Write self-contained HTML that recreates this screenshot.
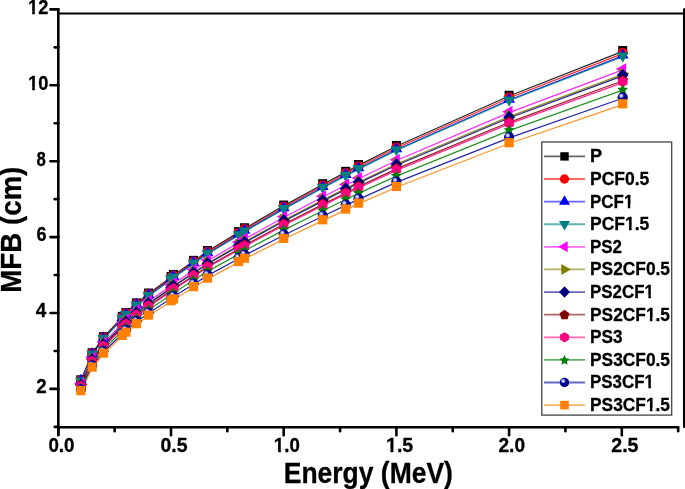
<!DOCTYPE html>
<html><head><meta charset="utf-8"><style>
html,body{margin:0;padding:0;background:#fff;}
body{width:685px;height:489px;overflow:hidden;}
svg{display:block;will-change:transform;font-family:"Liberation Sans",sans-serif;font-weight:bold;font-kerning:none;}
text{font-kerning:none;stroke:#000;stroke-width:0.3px;stroke-linejoin:round;}
</style></head><body>
<svg width="685" height="489" viewBox="0 0 685 489">
<defs><radialGradient id="ballg" cx="0.36" cy="0.34" r="0.72" fx="0.36" fy="0.34">
<stop offset="0" stop-color="#f4f4ff"/><stop offset="0.18" stop-color="#b0b0e0"/><stop offset="0.38" stop-color="#000098"/><stop offset="0.8" stop-color="#000088"/><stop offset="1" stop-color="#000060"/></radialGradient></defs>
<rect width="685" height="489" fill="#fff"/>

<polyline points="80.84,380.55 92.11,353.53 103.38,337.44 122.25,317.14 125.92,313.34 136.42,303.67 148.46,293.84 171.00,277.25 173.48,275.24 193.54,261.16 207.51,251.33 238.62,232.36 244.48,228.56 283.70,205.83 322.69,184.47 345.69,172.13 358.53,165.34 396.40,146.25 509.10,96.04 622.70,51.34" fill="none" stroke="#000000" stroke-width="1.25" stroke-opacity="0.85"/>
<polyline points="80.84,381.01 92.11,354.14 103.38,338.14 122.25,317.94 125.92,314.17 136.42,304.54 148.46,294.77 171.00,278.27 173.48,276.27 193.54,262.27 207.51,252.49 238.62,233.62 244.48,229.85 283.70,207.24 322.69,185.99 345.69,173.72 358.53,166.96 396.40,147.98 509.10,98.04 622.70,53.58" fill="none" stroke="#ff0000" stroke-width="1.25" stroke-opacity="0.85"/>
<polyline points="80.84,381.47 92.11,354.74 103.38,338.83 122.25,318.74 125.92,314.99 136.42,305.42 148.46,295.69 171.00,279.29 173.48,277.30 193.54,263.37 207.51,253.65 238.62,234.88 244.48,231.13 283.70,208.64 322.69,187.50 345.69,175.30 358.53,168.58 396.40,149.70 509.10,100.04 622.70,55.81" fill="none" stroke="#0000ff" stroke-width="1.25" stroke-opacity="0.85"/>
<polyline points="80.84,381.64 92.11,354.96 103.38,339.08 122.25,319.04 125.92,315.29 136.42,305.74 148.46,296.03 171.00,279.66 173.48,277.67 193.54,263.77 207.51,254.07 238.62,235.34 244.48,231.59 283.70,209.15 322.69,188.06 345.69,175.88 358.53,169.17 396.40,150.33 509.10,100.76 622.70,56.63" fill="none" stroke="#008080" stroke-width="1.25" stroke-opacity="0.85"/>
<polyline points="80.84,384.36 92.11,358.54 103.38,343.17 122.25,323.78 125.92,320.15 136.42,310.91 148.46,301.52 171.00,285.67 173.48,283.75 193.54,270.30 207.51,260.91 238.62,242.79 244.48,239.16 283.70,217.44 322.69,197.03 345.69,185.25 358.53,178.76 396.40,160.53 509.10,112.56 622.70,69.86" fill="none" stroke="#ff00ff" stroke-width="1.25" stroke-opacity="0.85"/>
<polyline points="80.84,385.27 92.11,359.75 103.38,344.56 122.25,325.38 125.92,321.80 136.42,312.66 148.46,303.37 171.00,287.71 173.48,285.81 193.54,272.51 207.51,263.23 238.62,245.31 244.48,241.72 283.70,220.25 322.69,200.07 345.69,188.42 358.53,182.01 396.40,163.98 509.10,116.56 622.70,74.33" fill="none" stroke="#808000" stroke-width="1.25" stroke-opacity="0.85"/>
<polyline points="80.84,385.60 92.11,360.18 103.38,345.05 122.25,325.95 125.92,322.38 136.42,313.28 148.46,304.03 171.00,288.43 173.48,286.54 193.54,273.29 207.51,264.05 238.62,246.20 244.48,242.63 283.70,221.25 322.69,201.15 345.69,189.55 358.53,183.16 396.40,165.20 509.10,117.97 622.70,75.92" fill="none" stroke="#000080" stroke-width="1.25" stroke-opacity="0.85"/>
<polyline points="80.84,386.59 92.11,361.49 103.38,346.55 122.25,327.68 125.92,324.16 136.42,315.17 148.46,306.04 171.00,290.63 173.48,288.76 193.54,275.68 207.51,266.55 238.62,248.93 244.48,245.40 283.70,224.28 322.69,204.43 345.69,192.98 358.53,186.67 396.40,168.93 509.10,122.29 622.70,80.76" fill="none" stroke="#800000" stroke-width="1.25" stroke-opacity="0.85"/>
<polyline points="80.84,386.97 92.11,361.99 103.38,347.11 122.25,328.34 125.92,324.83 136.42,315.89 148.46,306.80 171.00,291.46 173.48,289.61 193.54,276.59 207.51,267.50 238.62,249.96 244.48,246.45 283.70,225.43 322.69,205.68 345.69,194.27 358.53,187.99 396.40,170.35 509.10,123.93 622.70,82.59" fill="none" stroke="#ff0080" stroke-width="1.25" stroke-opacity="0.85"/>
<polyline points="80.84,388.50 92.11,364.00 103.38,349.42 122.25,331.01 125.92,327.57 136.42,318.80 148.46,309.89 171.00,294.85 173.48,293.03 193.54,280.26 207.51,271.35 238.62,254.15 244.48,250.71 283.70,230.10 322.69,210.73 345.69,199.55 358.53,193.39 396.40,176.09 509.10,130.57 622.70,90.04" fill="none" stroke="#008000" stroke-width="1.25" stroke-opacity="0.85"/>
<polyline points="80.84,390.19 92.11,366.23 103.38,351.96 122.25,333.96 125.92,330.59 136.42,322.01 148.46,313.29 171.00,298.59 173.48,296.81 193.54,284.32 207.51,275.60 238.62,258.78 244.48,255.41 283.70,235.26 322.69,216.31 345.69,205.37 358.53,199.35 396.40,182.42 509.10,137.90 622.70,98.26" fill="none" stroke="#0000a0" stroke-width="1.25" stroke-opacity="0.85"/>
<polyline points="80.84,391.48 92.11,367.93 103.38,353.91 122.25,336.22 125.92,332.91 136.42,324.48 148.46,315.91 171.00,301.46 173.48,299.70 193.54,287.43 207.51,278.87 238.62,262.33 244.48,259.02 283.70,239.21 322.69,220.59 345.69,209.84 358.53,203.92 396.40,187.29 509.10,143.53 622.70,104.57" fill="none" stroke="#ff8000" stroke-width="1.25" stroke-opacity="0.85"/>
<rect x="76.34" y="375.25" width="9.0" height="9.0" fill="#000000"/>
<rect x="87.61" y="348.23" width="9.0" height="9.0" fill="#000000"/>
<rect x="98.88" y="332.14" width="9.0" height="9.0" fill="#000000"/>
<rect x="117.75" y="311.84" width="9.0" height="9.0" fill="#000000"/>
<rect x="121.42" y="308.04" width="9.0" height="9.0" fill="#000000"/>
<rect x="131.92" y="298.37" width="9.0" height="9.0" fill="#000000"/>
<rect x="143.96" y="288.54" width="9.0" height="9.0" fill="#000000"/>
<rect x="166.50" y="271.95" width="9.0" height="9.0" fill="#000000"/>
<rect x="168.98" y="269.94" width="9.0" height="9.0" fill="#000000"/>
<rect x="189.04" y="255.86" width="9.0" height="9.0" fill="#000000"/>
<rect x="203.01" y="246.03" width="9.0" height="9.0" fill="#000000"/>
<rect x="234.12" y="227.06" width="9.0" height="9.0" fill="#000000"/>
<rect x="239.98" y="223.26" width="9.0" height="9.0" fill="#000000"/>
<rect x="279.20" y="200.53" width="9.0" height="9.0" fill="#000000"/>
<rect x="318.19" y="179.17" width="9.0" height="9.0" fill="#000000"/>
<rect x="341.19" y="166.83" width="9.0" height="9.0" fill="#000000"/>
<rect x="354.03" y="160.04" width="9.0" height="9.0" fill="#000000"/>
<rect x="391.90" y="140.95" width="9.0" height="9.0" fill="#000000"/>
<rect x="504.60" y="90.74" width="9.0" height="9.0" fill="#000000"/>
<rect x="618.20" y="46.04" width="9.0" height="9.0" fill="#000000"/>
<circle cx="80.84" cy="380.21" r="5.00" fill="#ff0000"/>
<circle cx="92.11" cy="353.34" r="5.00" fill="#ff0000"/>
<circle cx="103.38" cy="337.34" r="5.00" fill="#ff0000"/>
<circle cx="122.25" cy="317.14" r="5.00" fill="#ff0000"/>
<circle cx="125.92" cy="313.37" r="5.00" fill="#ff0000"/>
<circle cx="136.42" cy="303.74" r="5.00" fill="#ff0000"/>
<circle cx="148.46" cy="293.97" r="5.00" fill="#ff0000"/>
<circle cx="171.00" cy="277.47" r="5.00" fill="#ff0000"/>
<circle cx="173.48" cy="275.47" r="5.00" fill="#ff0000"/>
<circle cx="193.54" cy="261.47" r="5.00" fill="#ff0000"/>
<circle cx="207.51" cy="251.69" r="5.00" fill="#ff0000"/>
<circle cx="238.62" cy="232.82" r="5.00" fill="#ff0000"/>
<circle cx="244.48" cy="229.05" r="5.00" fill="#ff0000"/>
<circle cx="283.70" cy="206.44" r="5.00" fill="#ff0000"/>
<circle cx="322.69" cy="185.19" r="5.00" fill="#ff0000"/>
<circle cx="345.69" cy="172.92" r="5.00" fill="#ff0000"/>
<circle cx="358.53" cy="166.16" r="5.00" fill="#ff0000"/>
<circle cx="396.40" cy="147.18" r="5.00" fill="#ff0000"/>
<circle cx="509.10" cy="97.24" r="5.00" fill="#ff0000"/>
<circle cx="622.70" cy="52.78" r="5.00" fill="#ff0000"/>
<polygon points="80.84,373.87 74.94,384.07 86.74,384.07" fill="#0000ff"/>
<polygon points="92.11,347.14 86.21,357.34 98.01,357.34" fill="#0000ff"/>
<polygon points="103.38,331.23 97.48,341.43 109.28,341.43" fill="#0000ff"/>
<polygon points="122.25,311.14 116.35,321.34 128.15,321.34" fill="#0000ff"/>
<polygon points="125.92,307.39 120.02,317.59 131.82,317.59" fill="#0000ff"/>
<polygon points="136.42,297.82 130.52,308.02 142.32,308.02" fill="#0000ff"/>
<polygon points="148.46,288.09 142.56,298.29 154.36,298.29" fill="#0000ff"/>
<polygon points="171.00,271.69 165.10,281.89 176.90,281.89" fill="#0000ff"/>
<polygon points="173.48,269.70 167.58,279.90 179.38,279.90" fill="#0000ff"/>
<polygon points="193.54,255.77 187.64,265.97 199.44,265.97" fill="#0000ff"/>
<polygon points="207.51,246.05 201.61,256.25 213.41,256.25" fill="#0000ff"/>
<polygon points="238.62,227.28 232.72,237.48 244.52,237.48" fill="#0000ff"/>
<polygon points="244.48,223.53 238.58,233.73 250.38,233.73" fill="#0000ff"/>
<polygon points="283.70,201.04 277.80,211.24 289.60,211.24" fill="#0000ff"/>
<polygon points="322.69,179.90 316.79,190.10 328.59,190.10" fill="#0000ff"/>
<polygon points="345.69,167.70 339.79,177.90 351.58,177.90" fill="#0000ff"/>
<polygon points="358.53,160.98 352.63,171.18 364.43,171.18" fill="#0000ff"/>
<polygon points="396.40,142.10 390.50,152.30 402.30,152.30" fill="#0000ff"/>
<polygon points="509.10,92.44 503.20,102.64 515.00,102.64" fill="#0000ff"/>
<polygon points="622.70,48.21 616.80,58.41 628.60,58.41" fill="#0000ff"/>
<polygon points="80.84,387.64 74.94,377.44 86.74,377.44" fill="#008080"/>
<polygon points="92.11,360.96 86.21,350.76 98.01,350.76" fill="#008080"/>
<polygon points="103.38,345.08 97.48,334.88 109.28,334.88" fill="#008080"/>
<polygon points="122.25,325.04 116.35,314.84 128.15,314.84" fill="#008080"/>
<polygon points="125.92,321.29 120.02,311.09 131.82,311.09" fill="#008080"/>
<polygon points="136.42,311.74 130.52,301.54 142.32,301.54" fill="#008080"/>
<polygon points="148.46,302.03 142.56,291.83 154.36,291.83" fill="#008080"/>
<polygon points="171.00,285.66 165.10,275.46 176.90,275.46" fill="#008080"/>
<polygon points="173.48,283.67 167.58,273.47 179.38,273.47" fill="#008080"/>
<polygon points="193.54,269.77 187.64,259.57 199.44,259.57" fill="#008080"/>
<polygon points="207.51,260.07 201.61,249.87 213.41,249.87" fill="#008080"/>
<polygon points="238.62,241.34 232.72,231.14 244.52,231.14" fill="#008080"/>
<polygon points="244.48,237.59 238.58,227.39 250.38,227.39" fill="#008080"/>
<polygon points="283.70,215.15 277.80,204.95 289.60,204.95" fill="#008080"/>
<polygon points="322.69,194.06 316.79,183.86 328.59,183.86" fill="#008080"/>
<polygon points="345.69,181.88 339.79,171.68 351.58,171.68" fill="#008080"/>
<polygon points="358.53,175.17 352.63,164.97 364.43,164.97" fill="#008080"/>
<polygon points="396.40,156.33 390.50,146.13 402.30,146.13" fill="#008080"/>
<polygon points="509.10,106.76 503.20,96.56 515.00,96.56" fill="#008080"/>
<polygon points="622.70,62.63 616.80,52.43 628.60,52.43" fill="#008080"/>
<polygon points="74.04,383.56 84.24,377.66 84.24,389.46" fill="#ff00ff"/>
<polygon points="85.31,357.74 95.51,351.84 95.51,363.64" fill="#ff00ff"/>
<polygon points="96.58,342.37 106.78,336.47 106.78,348.27" fill="#ff00ff"/>
<polygon points="115.45,322.98 125.65,317.08 125.65,328.88" fill="#ff00ff"/>
<polygon points="119.12,319.35 129.32,313.45 129.32,325.25" fill="#ff00ff"/>
<polygon points="129.62,310.11 139.82,304.21 139.82,316.01" fill="#ff00ff"/>
<polygon points="141.66,300.72 151.86,294.82 151.86,306.62" fill="#ff00ff"/>
<polygon points="164.20,284.87 174.40,278.97 174.40,290.77" fill="#ff00ff"/>
<polygon points="166.68,282.95 176.88,277.05 176.88,288.85" fill="#ff00ff"/>
<polygon points="186.74,269.50 196.94,263.60 196.94,275.40" fill="#ff00ff"/>
<polygon points="200.71,260.11 210.91,254.21 210.91,266.01" fill="#ff00ff"/>
<polygon points="231.82,241.99 242.02,236.09 242.02,247.89" fill="#ff00ff"/>
<polygon points="237.68,238.36 247.88,232.46 247.88,244.26" fill="#ff00ff"/>
<polygon points="276.90,216.64 287.10,210.74 287.10,222.54" fill="#ff00ff"/>
<polygon points="315.89,196.23 326.09,190.33 326.09,202.13" fill="#ff00ff"/>
<polygon points="338.88,184.45 349.08,178.55 349.08,190.35" fill="#ff00ff"/>
<polygon points="351.73,177.96 361.93,172.06 361.93,183.86" fill="#ff00ff"/>
<polygon points="389.60,159.73 399.80,153.83 399.80,165.63" fill="#ff00ff"/>
<polygon points="502.30,111.76 512.50,105.86 512.50,117.66" fill="#ff00ff"/>
<polygon points="615.90,69.06 626.10,63.16 626.10,74.96" fill="#ff00ff"/>
<polygon points="87.64,384.47 77.44,378.57 77.44,390.37" fill="#808000"/>
<polygon points="98.91,358.95 88.71,353.05 88.71,364.85" fill="#808000"/>
<polygon points="110.18,343.76 99.98,337.86 99.98,349.66" fill="#808000"/>
<polygon points="129.05,324.58 118.85,318.68 118.85,330.48" fill="#808000"/>
<polygon points="132.72,321.00 122.52,315.10 122.52,326.90" fill="#808000"/>
<polygon points="143.22,311.86 133.02,305.96 133.02,317.76" fill="#808000"/>
<polygon points="155.26,302.57 145.06,296.67 145.06,308.47" fill="#808000"/>
<polygon points="177.80,286.91 167.60,281.01 167.60,292.81" fill="#808000"/>
<polygon points="180.28,285.01 170.08,279.11 170.08,290.91" fill="#808000"/>
<polygon points="200.34,271.71 190.14,265.81 190.14,277.61" fill="#808000"/>
<polygon points="214.31,262.43 204.11,256.53 204.11,268.33" fill="#808000"/>
<polygon points="245.42,244.51 235.22,238.61 235.22,250.41" fill="#808000"/>
<polygon points="251.28,240.92 241.08,235.02 241.08,246.82" fill="#808000"/>
<polygon points="290.50,219.45 280.30,213.55 280.30,225.35" fill="#808000"/>
<polygon points="329.49,199.27 319.29,193.37 319.29,205.17" fill="#808000"/>
<polygon points="352.49,187.62 342.29,181.72 342.29,193.52" fill="#808000"/>
<polygon points="365.33,181.21 355.13,175.31 355.13,187.11" fill="#808000"/>
<polygon points="403.20,163.18 393.00,157.28 393.00,169.08" fill="#808000"/>
<polygon points="515.90,115.76 505.70,109.86 505.70,121.66" fill="#808000"/>
<polygon points="629.50,73.53 619.30,67.63 619.30,79.43" fill="#808000"/>
<polygon points="80.84,378.60 86.74,384.80 80.84,391.00 74.94,384.80" fill="#000080"/>
<polygon points="92.11,353.18 98.01,359.38 92.11,365.58 86.21,359.38" fill="#000080"/>
<polygon points="103.38,338.05 109.28,344.25 103.38,350.45 97.48,344.25" fill="#000080"/>
<polygon points="122.25,318.95 128.15,325.15 122.25,331.35 116.35,325.15" fill="#000080"/>
<polygon points="125.92,315.38 131.82,321.58 125.92,327.78 120.02,321.58" fill="#000080"/>
<polygon points="136.42,306.28 142.32,312.48 136.42,318.68 130.52,312.48" fill="#000080"/>
<polygon points="148.46,297.03 154.36,303.23 148.46,309.43 142.56,303.23" fill="#000080"/>
<polygon points="171.00,281.43 176.90,287.63 171.00,293.83 165.10,287.63" fill="#000080"/>
<polygon points="173.48,279.54 179.38,285.74 173.48,291.94 167.58,285.74" fill="#000080"/>
<polygon points="193.54,266.29 199.44,272.49 193.54,278.69 187.64,272.49" fill="#000080"/>
<polygon points="207.51,257.05 213.41,263.25 207.51,269.45 201.61,263.25" fill="#000080"/>
<polygon points="238.62,239.20 244.52,245.40 238.62,251.60 232.72,245.40" fill="#000080"/>
<polygon points="244.48,235.63 250.38,241.83 244.48,248.03 238.58,241.83" fill="#000080"/>
<polygon points="283.70,214.25 289.60,220.45 283.70,226.65 277.80,220.45" fill="#000080"/>
<polygon points="322.69,194.15 328.59,200.35 322.69,206.55 316.79,200.35" fill="#000080"/>
<polygon points="345.69,182.55 351.58,188.75 345.69,194.95 339.79,188.75" fill="#000080"/>
<polygon points="358.53,176.16 364.43,182.36 358.53,188.56 352.63,182.36" fill="#000080"/>
<polygon points="396.40,158.20 402.30,164.40 396.40,170.60 390.50,164.40" fill="#000080"/>
<polygon points="509.10,110.97 515.00,117.17 509.10,123.37 503.20,117.17" fill="#000080"/>
<polygon points="622.70,68.92 628.60,75.12 622.70,81.32 616.80,75.12" fill="#000080"/>
<polygon points="80.84,380.49 86.17,384.36 84.13,390.63 77.55,390.63 75.51,384.36" fill="#800000"/>
<polygon points="92.11,355.39 97.44,359.26 95.40,365.52 88.82,365.52 86.78,359.26" fill="#800000"/>
<polygon points="103.38,340.45 108.71,344.32 106.67,350.58 100.09,350.58 98.05,344.32" fill="#800000"/>
<polygon points="122.25,321.58 127.57,325.45 125.54,331.72 118.95,331.72 116.92,325.45" fill="#800000"/>
<polygon points="125.92,318.06 131.25,321.93 129.21,328.19 122.63,328.19 120.59,321.93" fill="#800000"/>
<polygon points="136.42,309.07 141.75,312.94 139.72,319.20 133.13,319.20 131.10,312.94" fill="#800000"/>
<polygon points="148.46,299.94 153.79,303.81 151.75,310.07 145.17,310.07 143.13,303.81" fill="#800000"/>
<polygon points="171.00,284.53 176.33,288.40 174.29,294.66 167.71,294.66 165.67,288.40" fill="#800000"/>
<polygon points="173.48,282.66 178.81,286.53 176.77,292.79 170.19,292.79 168.15,286.53" fill="#800000"/>
<polygon points="193.54,269.58 198.87,273.45 196.83,279.71 190.25,279.71 188.21,273.45" fill="#800000"/>
<polygon points="207.51,260.45 212.84,264.32 210.81,270.58 204.22,270.58 202.19,264.32" fill="#800000"/>
<polygon points="238.62,242.83 243.95,246.70 241.91,252.96 235.33,252.96 233.29,246.70" fill="#800000"/>
<polygon points="244.48,239.30 249.81,243.17 247.77,249.43 241.19,249.43 239.15,243.17" fill="#800000"/>
<polygon points="283.70,218.18 289.03,222.05 286.99,228.31 280.41,228.31 278.37,222.05" fill="#800000"/>
<polygon points="322.69,198.33 328.02,202.20 325.99,208.47 319.40,208.47 317.37,202.20" fill="#800000"/>
<polygon points="345.69,186.88 351.01,190.75 348.98,197.01 342.39,197.01 340.36,190.75" fill="#800000"/>
<polygon points="358.53,180.57 363.86,184.44 361.82,190.70 355.24,190.70 353.21,184.44" fill="#800000"/>
<polygon points="396.40,162.83 401.73,166.70 399.69,172.96 393.11,172.96 391.07,166.70" fill="#800000"/>
<polygon points="509.10,116.19 514.43,120.06 512.39,126.32 505.81,126.32 503.77,120.06" fill="#800000"/>
<polygon points="622.70,74.66 628.03,78.53 625.99,84.79 619.41,84.79 617.38,78.53" fill="#800000"/>
<polygon points="80.84,380.67 85.60,383.42 85.60,388.92 80.84,391.67 76.08,388.92 76.08,383.42" fill="#ff0080"/>
<polygon points="92.11,355.69 96.87,358.44 96.87,363.94 92.11,366.69 87.35,363.94 87.35,358.44" fill="#ff0080"/>
<polygon points="103.38,340.81 108.14,343.56 108.14,349.06 103.38,351.81 98.62,349.06 98.62,343.56" fill="#ff0080"/>
<polygon points="122.25,322.04 127.01,324.79 127.01,330.29 122.25,333.04 117.48,330.29 117.48,324.79" fill="#ff0080"/>
<polygon points="125.92,318.53 130.68,321.28 130.68,326.78 125.92,329.53 121.16,326.78 121.16,321.28" fill="#ff0080"/>
<polygon points="136.42,309.59 141.19,312.34 141.19,317.84 136.42,320.59 131.66,317.84 131.66,312.34" fill="#ff0080"/>
<polygon points="148.46,300.50 153.22,303.25 153.22,308.75 148.46,311.50 143.70,308.75 143.70,303.25" fill="#ff0080"/>
<polygon points="171.00,285.16 175.76,287.91 175.76,293.41 171.00,296.16 166.24,293.41 166.24,287.91" fill="#ff0080"/>
<polygon points="173.48,283.31 178.24,286.06 178.24,291.56 173.48,294.31 168.72,291.56 168.72,286.06" fill="#ff0080"/>
<polygon points="193.54,270.29 198.30,273.04 198.30,278.54 193.54,281.29 188.78,278.54 188.78,273.04" fill="#ff0080"/>
<polygon points="207.51,261.20 212.28,263.95 212.28,269.45 207.51,272.20 202.75,269.45 202.75,263.95" fill="#ff0080"/>
<polygon points="238.62,243.66 243.38,246.41 243.38,251.91 238.62,254.66 233.86,251.91 233.86,246.41" fill="#ff0080"/>
<polygon points="244.48,240.15 249.24,242.90 249.24,248.40 244.48,251.15 239.72,248.40 239.72,242.90" fill="#ff0080"/>
<polygon points="283.70,219.13 288.46,221.88 288.46,227.38 283.70,230.13 278.94,227.38 278.94,221.88" fill="#ff0080"/>
<polygon points="322.69,199.38 327.46,202.13 327.46,207.63 322.69,210.38 317.93,207.63 317.93,202.13" fill="#ff0080"/>
<polygon points="345.69,187.97 350.45,190.72 350.45,196.22 345.69,198.97 340.92,196.22 340.92,190.72" fill="#ff0080"/>
<polygon points="358.53,181.69 363.30,184.44 363.30,189.94 358.53,192.69 353.77,189.94 353.77,184.44" fill="#ff0080"/>
<polygon points="396.40,164.05 401.16,166.80 401.16,172.30 396.40,175.05 391.64,172.30 391.64,166.80" fill="#ff0080"/>
<polygon points="509.10,117.63 513.86,120.38 513.86,125.88 509.10,128.63 504.34,125.88 504.34,120.38" fill="#ff0080"/>
<polygon points="622.70,76.29 627.46,79.04 627.46,84.54 622.70,87.29 617.94,84.54 617.94,79.04" fill="#ff0080"/>
<polygon points="80.84,382.50 82.46,385.97 86.26,386.44 83.46,389.05 84.19,392.81 80.84,390.95 77.49,392.81 78.22,389.05 75.42,386.44 79.22,385.97" fill="#008000"/>
<polygon points="92.11,358.00 93.73,361.48 97.53,361.94 94.73,364.55 95.46,368.32 92.11,366.45 88.76,368.32 89.49,364.55 86.69,361.94 90.49,361.48" fill="#008000"/>
<polygon points="103.38,343.42 105.00,346.89 108.80,347.35 106.00,349.97 106.73,353.73 103.38,351.87 100.03,353.73 100.76,349.97 97.96,347.35 101.76,346.89" fill="#008000"/>
<polygon points="122.25,325.01 123.86,328.49 127.67,328.95 124.86,331.56 125.60,335.32 122.25,333.46 118.90,335.32 119.63,331.56 116.82,328.95 120.63,328.49" fill="#008000"/>
<polygon points="125.92,321.57 127.54,325.04 131.34,325.51 128.54,328.12 129.27,331.88 125.92,330.02 122.57,331.88 123.30,328.12 120.50,325.51 124.30,325.04" fill="#008000"/>
<polygon points="136.42,312.80 138.04,316.27 141.84,316.73 139.04,319.35 139.77,323.11 136.42,321.25 133.07,323.11 133.81,319.35 131.00,316.73 134.81,316.27" fill="#008000"/>
<polygon points="148.46,303.89 150.08,307.36 153.88,307.82 151.08,310.44 151.81,314.20 148.46,312.34 145.11,314.20 145.84,310.44 143.04,307.82 146.84,307.36" fill="#008000"/>
<polygon points="171.00,288.85 172.62,292.33 176.42,292.79 173.62,295.40 174.35,299.16 171.00,297.30 167.65,299.16 168.38,295.40 165.58,292.79 169.38,292.33" fill="#008000"/>
<polygon points="173.48,287.03 175.10,290.50 178.90,290.97 176.09,293.58 176.83,297.34 173.48,295.48 170.13,297.34 170.86,293.58 168.06,290.97 171.86,290.50" fill="#008000"/>
<polygon points="193.54,274.26 195.16,277.74 198.96,278.20 196.16,280.81 196.89,284.57 193.54,282.71 190.19,284.57 190.92,280.81 188.12,278.20 191.92,277.74" fill="#008000"/>
<polygon points="207.51,265.35 209.13,268.83 212.94,269.29 210.13,271.90 210.87,275.66 207.51,273.80 204.16,275.66 204.90,271.90 202.09,269.29 205.90,268.83" fill="#008000"/>
<polygon points="238.62,248.15 240.24,251.63 244.04,252.09 241.24,254.70 241.97,258.46 238.62,256.60 235.27,258.46 236.00,254.70 233.20,252.09 237.00,251.63" fill="#008000"/>
<polygon points="244.48,244.71 246.10,248.19 249.90,248.65 247.10,251.26 247.83,255.02 244.48,253.16 241.13,255.02 241.86,251.26 239.06,248.65 242.86,248.19" fill="#008000"/>
<polygon points="283.70,224.10 285.32,227.58 289.12,228.04 286.32,230.65 287.05,234.41 283.70,232.55 280.35,234.41 281.08,230.65 278.28,228.04 282.08,227.58" fill="#008000"/>
<polygon points="322.69,204.73 324.31,208.21 328.12,208.67 325.31,211.28 326.04,215.04 322.69,213.18 319.34,215.04 320.08,211.28 317.27,208.67 321.08,208.21" fill="#008000"/>
<polygon points="345.69,193.55 347.30,197.03 351.11,197.49 348.30,200.10 349.04,203.86 345.69,202.00 342.33,203.86 343.07,200.10 340.26,197.49 344.07,197.03" fill="#008000"/>
<polygon points="358.53,187.39 360.15,190.87 363.95,191.33 361.15,193.94 361.88,197.70 358.53,195.84 355.18,197.70 355.92,193.94 353.11,191.33 356.92,190.87" fill="#008000"/>
<polygon points="396.40,170.09 398.02,173.56 401.82,174.03 399.02,176.64 399.75,180.40 396.40,178.54 393.05,180.40 393.78,176.64 390.98,174.03 394.78,173.56" fill="#008000"/>
<polygon points="509.10,124.57 510.72,128.04 514.52,128.51 511.72,131.12 512.45,134.88 509.10,133.02 505.75,134.88 506.48,131.12 503.68,128.51 507.48,128.04" fill="#008000"/>
<polygon points="622.70,84.04 624.32,87.52 628.12,87.98 625.32,90.59 626.05,94.35 622.70,92.49 619.35,94.35 620.09,90.59 617.28,87.98 621.09,87.52" fill="#008000"/>
<circle cx="80.84" cy="389.39" r="5.10" fill="url(#ballg)"/>
<circle cx="92.11" cy="365.43" r="5.10" fill="url(#ballg)"/>
<circle cx="103.38" cy="351.16" r="5.10" fill="url(#ballg)"/>
<circle cx="122.25" cy="333.16" r="5.10" fill="url(#ballg)"/>
<circle cx="125.92" cy="329.79" r="5.10" fill="url(#ballg)"/>
<circle cx="136.42" cy="321.21" r="5.10" fill="url(#ballg)"/>
<circle cx="148.46" cy="312.49" r="5.10" fill="url(#ballg)"/>
<circle cx="171.00" cy="297.79" r="5.10" fill="url(#ballg)"/>
<circle cx="173.48" cy="296.01" r="5.10" fill="url(#ballg)"/>
<circle cx="193.54" cy="283.52" r="5.10" fill="url(#ballg)"/>
<circle cx="207.51" cy="274.80" r="5.10" fill="url(#ballg)"/>
<circle cx="238.62" cy="257.98" r="5.10" fill="url(#ballg)"/>
<circle cx="244.48" cy="254.61" r="5.10" fill="url(#ballg)"/>
<circle cx="283.70" cy="234.46" r="5.10" fill="url(#ballg)"/>
<circle cx="322.69" cy="215.51" r="5.10" fill="url(#ballg)"/>
<circle cx="345.69" cy="204.57" r="5.10" fill="url(#ballg)"/>
<circle cx="358.53" cy="198.55" r="5.10" fill="url(#ballg)"/>
<circle cx="396.40" cy="181.62" r="5.10" fill="url(#ballg)"/>
<circle cx="509.10" cy="137.10" r="5.10" fill="url(#ballg)"/>
<circle cx="622.70" cy="97.46" r="5.10" fill="url(#ballg)"/>
<rect x="76.24" y="386.08" width="9.2" height="9.2" fill="#ff8000"/>
<rect x="87.51" y="362.53" width="9.2" height="9.2" fill="#ff8000"/>
<rect x="98.78" y="348.51" width="9.2" height="9.2" fill="#ff8000"/>
<rect x="117.65" y="330.82" width="9.2" height="9.2" fill="#ff8000"/>
<rect x="121.32" y="327.51" width="9.2" height="9.2" fill="#ff8000"/>
<rect x="131.82" y="319.08" width="9.2" height="9.2" fill="#ff8000"/>
<rect x="143.86" y="310.51" width="9.2" height="9.2" fill="#ff8000"/>
<rect x="166.40" y="296.06" width="9.2" height="9.2" fill="#ff8000"/>
<rect x="168.88" y="294.30" width="9.2" height="9.2" fill="#ff8000"/>
<rect x="188.94" y="282.03" width="9.2" height="9.2" fill="#ff8000"/>
<rect x="202.91" y="273.47" width="9.2" height="9.2" fill="#ff8000"/>
<rect x="234.02" y="256.93" width="9.2" height="9.2" fill="#ff8000"/>
<rect x="239.88" y="253.62" width="9.2" height="9.2" fill="#ff8000"/>
<rect x="279.10" y="233.81" width="9.2" height="9.2" fill="#ff8000"/>
<rect x="318.09" y="215.19" width="9.2" height="9.2" fill="#ff8000"/>
<rect x="341.08" y="204.44" width="9.2" height="9.2" fill="#ff8000"/>
<rect x="353.93" y="198.52" width="9.2" height="9.2" fill="#ff8000"/>
<rect x="391.80" y="181.89" width="9.2" height="9.2" fill="#ff8000"/>
<rect x="504.50" y="138.13" width="9.2" height="9.2" fill="#ff8000"/>
<rect x="618.10" y="99.17" width="9.2" height="9.2" fill="#ff8000"/>
<line x1="58.3" y1="9.4" x2="58.3" y2="434.6" stroke="#000" stroke-width="2.6" stroke-linecap="round" fill="none"/>
<line x1="58.3" y1="427.3" x2="677.8" y2="427.3" stroke="#000" stroke-width="2.6" stroke-linecap="round" fill="none"/>
<line x1="58.3" y1="13.5" x2="684" y2="13.5" stroke="#000" stroke-width="2.2"/>
<line x1="684.6" y1="9.6" x2="684.6" y2="426.5" stroke="#000" stroke-width="3.2" stroke-linecap="round"/>
<line x1="54.7" y1="426.85" x2="58.3" y2="426.85" stroke="#000" stroke-width="2.6" stroke-linecap="round" fill="none"/>
<line x1="50.5" y1="388.90" x2="58.3" y2="388.90" stroke="#000" stroke-width="2.6" stroke-linecap="round" fill="none"/>
<line x1="54.7" y1="350.95" x2="58.3" y2="350.95" stroke="#000" stroke-width="2.6" stroke-linecap="round" fill="none"/>
<line x1="50.5" y1="313.00" x2="58.3" y2="313.00" stroke="#000" stroke-width="2.6" stroke-linecap="round" fill="none"/>
<line x1="54.7" y1="275.05" x2="58.3" y2="275.05" stroke="#000" stroke-width="2.6" stroke-linecap="round" fill="none"/>
<line x1="50.5" y1="237.10" x2="58.3" y2="237.10" stroke="#000" stroke-width="2.6" stroke-linecap="round" fill="none"/>
<line x1="54.7" y1="199.15" x2="58.3" y2="199.15" stroke="#000" stroke-width="2.6" stroke-linecap="round" fill="none"/>
<line x1="50.5" y1="161.20" x2="58.3" y2="161.20" stroke="#000" stroke-width="2.6" stroke-linecap="round" fill="none"/>
<line x1="54.7" y1="123.25" x2="58.3" y2="123.25" stroke="#000" stroke-width="2.6" stroke-linecap="round" fill="none"/>
<line x1="50.5" y1="85.30" x2="58.3" y2="85.30" stroke="#000" stroke-width="2.6" stroke-linecap="round" fill="none"/>
<line x1="54.7" y1="47.35" x2="58.3" y2="47.35" stroke="#000" stroke-width="2.6" stroke-linecap="round" fill="none"/>
<line x1="50.5" y1="9.40" x2="58.3" y2="9.40" stroke="#000" stroke-width="2.6" stroke-linecap="round" fill="none"/>
<line x1="58.30" y1="427.3" x2="58.30" y2="435.3" stroke="#000" stroke-width="2.6" stroke-linecap="round" fill="none"/>
<line x1="114.65" y1="427.3" x2="114.65" y2="431.2" stroke="#000" stroke-width="2.6" stroke-linecap="round" fill="none"/>
<line x1="171.00" y1="427.3" x2="171.00" y2="435.3" stroke="#000" stroke-width="2.6" stroke-linecap="round" fill="none"/>
<line x1="227.35" y1="427.3" x2="227.35" y2="431.2" stroke="#000" stroke-width="2.6" stroke-linecap="round" fill="none"/>
<line x1="283.70" y1="427.3" x2="283.70" y2="435.3" stroke="#000" stroke-width="2.6" stroke-linecap="round" fill="none"/>
<line x1="340.05" y1="427.3" x2="340.05" y2="431.2" stroke="#000" stroke-width="2.6" stroke-linecap="round" fill="none"/>
<line x1="396.40" y1="427.3" x2="396.40" y2="435.3" stroke="#000" stroke-width="2.6" stroke-linecap="round" fill="none"/>
<line x1="452.75" y1="427.3" x2="452.75" y2="431.2" stroke="#000" stroke-width="2.6" stroke-linecap="round" fill="none"/>
<line x1="509.10" y1="427.3" x2="509.10" y2="435.3" stroke="#000" stroke-width="2.6" stroke-linecap="round" fill="none"/>
<line x1="565.45" y1="427.3" x2="565.45" y2="431.2" stroke="#000" stroke-width="2.6" stroke-linecap="round" fill="none"/>
<line x1="621.80" y1="427.3" x2="621.80" y2="435.3" stroke="#000" stroke-width="2.6" stroke-linecap="round" fill="none"/>
<line x1="678.15" y1="427.3" x2="678.15" y2="431.2" stroke="#000" stroke-width="2.6" stroke-linecap="round" fill="none"/>
<text x="36.30" y="393.20" font-size="19.6" textLength="10.40" lengthAdjust="spacingAndGlyphs">2</text>
<text x="35.86" y="317.30" font-size="19.6" textLength="10.59" lengthAdjust="spacingAndGlyphs">4</text>
<text x="36.39" y="241.40" font-size="19.6" textLength="10.01" lengthAdjust="spacingAndGlyphs">6</text>
<text x="36.52" y="165.50" font-size="19.6" textLength="9.35" lengthAdjust="spacingAndGlyphs">8</text>
<text x="28.00" y="89.60" font-size="19.6" textLength="20.30" lengthAdjust="spacingAndGlyphs">10</text><rect x="27.70" y="86.73" width="4.46" height="4.47" fill="#fff"/><rect x="34.86" y="86.73" width="3.29" height="4.47" fill="#fff"/>
<text x="28.00" y="13.70" font-size="19.6" textLength="20.28" lengthAdjust="spacingAndGlyphs">12</text><rect x="27.70" y="10.83" width="4.46" height="4.47" fill="#fff"/><rect x="34.86" y="10.83" width="3.28" height="4.47" fill="#fff"/>
<text x="48.41" y="452.30" font-size="19.6" textLength="26.11" lengthAdjust="spacingAndGlyphs">0.0</text>
<text x="160.48" y="452.30" font-size="19.6" textLength="27.01" lengthAdjust="spacingAndGlyphs">0.5</text>
<text x="273.87" y="452.30" font-size="19.6" textLength="25.94" lengthAdjust="spacingAndGlyphs">1.0</text><rect x="273.57" y="449.43" width="4.56" height="4.47" fill="#fff"/><rect x="280.89" y="449.43" width="3.36" height="4.47" fill="#fff"/>
<text x="386.02" y="452.30" font-size="19.6" textLength="27.18" lengthAdjust="spacingAndGlyphs">1.5</text><rect x="385.72" y="449.43" width="4.76" height="4.47" fill="#fff"/><rect x="393.36" y="449.43" width="3.53" height="4.47" fill="#fff"/>
<text x="498.49" y="452.30" font-size="19.6" textLength="26.55" lengthAdjust="spacingAndGlyphs">2.0</text>
<text x="611.27" y="452.30" font-size="19.6" textLength="27.22" lengthAdjust="spacingAndGlyphs">2.5</text>
<text x="283.78" y="482.80" font-size="28.9" textLength="169.09" lengthAdjust="spacingAndGlyphs">Energy (MeV)</text>
<g transform="translate(20.9,291) rotate(-90)"><text x="-1.70" y="0.00" font-size="28.9" textLength="126.03" lengthAdjust="spacingAndGlyphs">MFB (cm)</text></g>
<rect x="541.8" y="142" width="129.9" height="273.1" fill="#fff" stroke="#444" stroke-width="1.3"/>
<line x1="544" y1="156.40" x2="585" y2="156.40" stroke="#000000" stroke-width="1.8" stroke-opacity="0.6"/>
<rect x="560.32" y="152.22" width="8.370000000000001" height="8.370000000000001" fill="#000000"/>
<text x="589.93" y="162.30" font-size="18.9" textLength="12.14" lengthAdjust="spacingAndGlyphs">P</text>
<line x1="544" y1="179.01" x2="585" y2="179.01" stroke="#ff0000" stroke-width="1.8" stroke-opacity="0.6"/>
<circle cx="564.50" cy="179.01" r="4.65" fill="#ff0000"/>
<text x="589.98" y="184.91" font-size="18.9" textLength="59.36" lengthAdjust="spacingAndGlyphs">PCF0.5</text>
<line x1="544" y1="201.62" x2="585" y2="201.62" stroke="#0000ff" stroke-width="1.8" stroke-opacity="0.6"/>
<polygon points="564.50,195.30 559.01,204.78 569.99,204.78" fill="#0000ff"/>
<text x="590.02" y="207.52" font-size="18.9" textLength="43.30" lengthAdjust="spacingAndGlyphs">PCF1</text><rect x="623.60" y="204.75" width="4.15" height="4.37" fill="#fff"/><rect x="630.28" y="204.75" width="3.04" height="4.37" fill="#fff"/>
<line x1="544" y1="224.23" x2="585" y2="224.23" stroke="#008080" stroke-width="1.8" stroke-opacity="0.6"/>
<polygon points="564.50,230.55 559.01,221.07 569.99,221.07" fill="#008080"/>
<text x="589.98" y="230.13" font-size="18.9" textLength="59.36" lengthAdjust="spacingAndGlyphs">PCF1.5</text><rect x="624.70" y="227.36" width="4.29" height="4.37" fill="#fff"/><rect x="631.59" y="227.36" width="3.15" height="4.37" fill="#fff"/>
<line x1="544" y1="246.84" x2="585" y2="246.84" stroke="#ff00ff" stroke-width="1.8" stroke-opacity="0.6"/>
<polygon points="558.18,246.84 567.66,241.35 567.66,252.33" fill="#ff00ff"/>
<text x="590.02" y="252.74" font-size="18.9" textLength="32.01" lengthAdjust="spacingAndGlyphs">PS2</text>
<line x1="544" y1="269.45" x2="585" y2="269.45" stroke="#808000" stroke-width="1.8" stroke-opacity="0.6"/>
<polygon points="570.82,269.45 561.34,263.96 561.34,274.94" fill="#808000"/>
<text x="589.99" y="275.35" font-size="18.9" textLength="80.04" lengthAdjust="spacingAndGlyphs">PS2CF0.5</text>
<line x1="544" y1="292.06" x2="585" y2="292.06" stroke="#000080" stroke-width="1.8" stroke-opacity="0.6"/>
<polygon points="564.50,286.29 569.99,292.06 564.50,297.83 559.01,292.06" fill="#000080"/>
<text x="590.02" y="297.96" font-size="18.9" textLength="63.90" lengthAdjust="spacingAndGlyphs">PS2CF1</text><rect x="644.22" y="295.19" width="4.15" height="4.37" fill="#fff"/><rect x="650.88" y="295.19" width="3.04" height="4.37" fill="#fff"/>
<line x1="544" y1="314.67" x2="585" y2="314.67" stroke="#800000" stroke-width="1.8" stroke-opacity="0.6"/>
<polygon points="564.50,309.76 569.45,313.36 567.56,319.18 561.44,319.18 559.55,313.36" fill="#800000"/>
<text x="589.99" y="320.57" font-size="18.9" textLength="80.04" lengthAdjust="spacingAndGlyphs">PS2CF1.5</text><rect x="645.61" y="317.80" width="4.25" height="4.37" fill="#fff"/><rect x="652.44" y="317.80" width="3.12" height="4.37" fill="#fff"/>
<line x1="544" y1="337.28" x2="585" y2="337.28" stroke="#ff0080" stroke-width="1.8" stroke-opacity="0.6"/>
<polygon points="564.50,332.16 568.93,334.72 568.93,339.84 564.50,342.39 560.07,339.84 560.07,334.72" fill="#ff0080"/>
<text x="590.00" y="343.18" font-size="18.9" textLength="32.58" lengthAdjust="spacingAndGlyphs">PS3</text>
<line x1="544" y1="359.89" x2="585" y2="359.89" stroke="#008000" stroke-width="1.8" stroke-opacity="0.6"/>
<polygon points="564.50,355.09 566.00,358.32 569.54,358.75 566.93,361.18 567.62,364.68 564.50,362.95 561.38,364.68 562.07,361.18 559.46,358.75 563.00,358.32" fill="#008000"/>
<text x="589.99" y="365.79" font-size="18.9" textLength="80.04" lengthAdjust="spacingAndGlyphs">PS3CF0.5</text>
<line x1="544" y1="382.50" x2="585" y2="382.50" stroke="#0000a0" stroke-width="1.8" stroke-opacity="0.6"/>
<circle cx="564.50" cy="382.50" r="4.74" fill="url(#ballg)"/>
<text x="590.02" y="388.40" font-size="18.9" textLength="63.90" lengthAdjust="spacingAndGlyphs">PS3CF1</text><rect x="644.22" y="385.63" width="4.15" height="4.37" fill="#fff"/><rect x="650.88" y="385.63" width="3.04" height="4.37" fill="#fff"/>
<line x1="544" y1="405.11" x2="585" y2="405.11" stroke="#ff8000" stroke-width="1.8" stroke-opacity="0.6"/>
<rect x="560.22" y="400.83" width="8.556" height="8.556" fill="#ff8000"/>
<text x="589.99" y="411.01" font-size="18.9" textLength="80.04" lengthAdjust="spacingAndGlyphs">PS3CF1.5</text><rect x="645.61" y="408.24" width="4.25" height="4.37" fill="#fff"/><rect x="652.44" y="408.24" width="3.12" height="4.37" fill="#fff"/>
</svg>
</body></html>
